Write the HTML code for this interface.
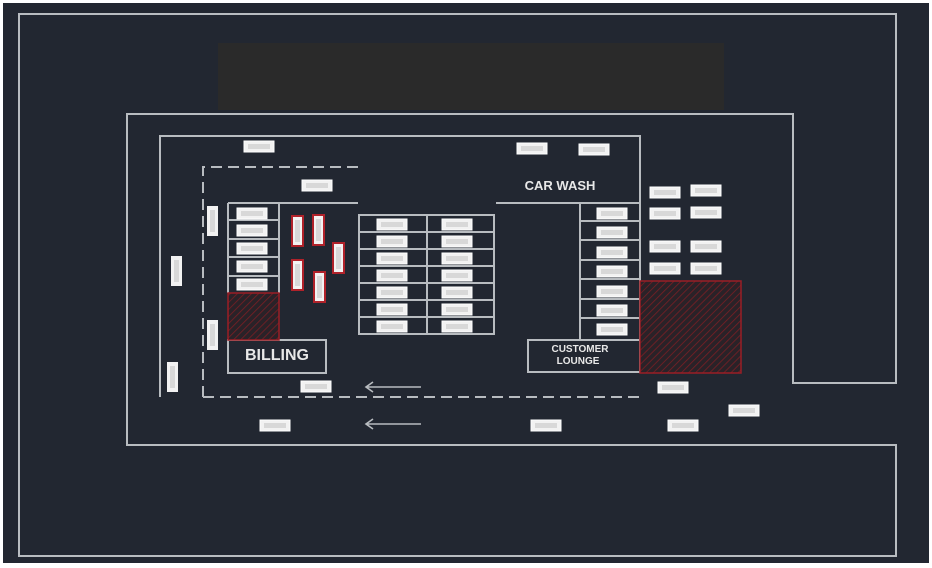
<!DOCTYPE html>
<html><head><meta charset="utf-8"><style>
html,body{margin:0;padding:0;background:#fff;}
svg{display:block}
text{font-family:"Liberation Sans",sans-serif;font-weight:bold;fill:#e8e8e8}
</style></head><body>
<svg width="932" height="568" viewBox="0 0 932 568" xmlns="http://www.w3.org/2000/svg">
<defs>
<pattern id="h" width="5" height="5" patternUnits="userSpaceOnUse" patternTransform="rotate(45)">
<rect width="5" height="5" fill="#2a2228"/><line x1="0" y1="0" x2="0" y2="5" stroke="#7a1e24" stroke-width="1.6"/>
</pattern>
<g id="c"><rect width="30" height="11" fill="#f2f2f2" stroke="#fff" stroke-width="1"/><rect x="4" y="3" width="22" height="5" fill="#d8d8d8"/></g>
<g id="v"><rect width="11" height="30" fill="#f2f2f2"/><rect x="3" y="4" width="5" height="22" fill="#d8d8d8"/></g>
<g id="r"><rect width="11" height="30" fill="#f2f2f2" stroke="#b0222a" stroke-width="2"/><rect x="3" y="4" width="5" height="22" fill="#d8d8d8"/></g>
</defs>
<rect x="3" y="3" width="926" height="560" fill="#222731"/>
<rect x="218" y="43" width="506" height="67" fill="#2a2a2a"/>
<g fill="none" stroke="#b8bcc0" stroke-width="2">
<path d="M19 14H896V383H793V114H127V445H896V556H19Z"/>
<path d="M160 397V136H640V372"/>
<path d="M496 203H640"/>
<path d="M580 203V340M580 221H640M580 240H640M580 260H640M580 279H640M580 299H640M580 318H640"/>
<rect x="528" y="340" width="112" height="32"/>
<path d="M228 203H358M228 203V293M279 203V293M228 220H279M228 239H279M228 257H279M228 276H279"/>
<rect x="228" y="340" width="98" height="33"/>
<rect x="359" y="215" width="135" height="119"/>
<path d="M427 215V334M359 232H494M359 249H494M359 266H494M359 283H494M359 300H494M359 317H494"/>
<path d="M203 397V167H360M203 397H640" stroke-dasharray="11 6"/>
<path d="M367 387H421M373 382L366 387L373 392M367 424H421M373 419L366 424L373 429" stroke-width="1.6"/>
</g>
<rect x="228" y="293" width="51" height="47" fill="url(#h)" stroke="#9a1e26" stroke-width="1.5"/>
<rect x="640" y="281" width="101" height="92" fill="url(#h)" stroke="#9a1e26" stroke-width="1.5"/>
<text x="560" y="190" font-size="13" text-anchor="middle">CAR WASH</text>
<text x="580" y="352" font-size="10" text-anchor="middle">CUSTOMER</text>
<text x="578" y="364" font-size="10" text-anchor="middle">LOUNGE</text>
<text x="277" y="360" font-size="16" text-anchor="middle">BILLING</text>
<use href="#c" x="244" y="141"/><use href="#c" x="302" y="180"/><use href="#c" x="517" y="143"/><use href="#c" x="579" y="144"/>
<use href="#c" x="237" y="208"/><use href="#c" x="237" y="225"/><use href="#c" x="237" y="243"/><use href="#c" x="237" y="261"/><use href="#c" x="237" y="279"/>
<use href="#c" x="377" y="219"/><use href="#c" x="377" y="236"/><use href="#c" x="377" y="253"/><use href="#c" x="377" y="270"/><use href="#c" x="377" y="287"/><use href="#c" x="377" y="304"/><use href="#c" x="377" y="321"/>
<use href="#c" x="442" y="219"/><use href="#c" x="442" y="236"/><use href="#c" x="442" y="253"/><use href="#c" x="442" y="270"/><use href="#c" x="442" y="287"/><use href="#c" x="442" y="304"/><use href="#c" x="442" y="321"/>
<use href="#c" x="597" y="208"/><use href="#c" x="597" y="227"/><use href="#c" x="597" y="247"/><use href="#c" x="597" y="266"/><use href="#c" x="597" y="286"/><use href="#c" x="597" y="305"/><use href="#c" x="597" y="324"/>
<use href="#c" x="650" y="187"/><use href="#c" x="691" y="185"/><use href="#c" x="650" y="208"/><use href="#c" x="691" y="207"/><use href="#c" x="650" y="241"/><use href="#c" x="691" y="241"/><use href="#c" x="650" y="263"/><use href="#c" x="691" y="263"/>
<use href="#c" x="301" y="381"/><use href="#c" x="260" y="420"/><use href="#c" x="531" y="420"/><use href="#c" x="658" y="382"/><use href="#c" x="668" y="420"/><use href="#c" x="729" y="405"/>
<use href="#v" x="207" y="206"/><use href="#v" x="171" y="256"/><use href="#v" x="207" y="320"/><use href="#v" x="167" y="362"/>
<use href="#r" x="292" y="216"/><use href="#r" x="313" y="215"/><use href="#r" x="333" y="243"/><use href="#r" x="292" y="260"/><use href="#r" x="314" y="272"/>
</svg>
</body></html>
